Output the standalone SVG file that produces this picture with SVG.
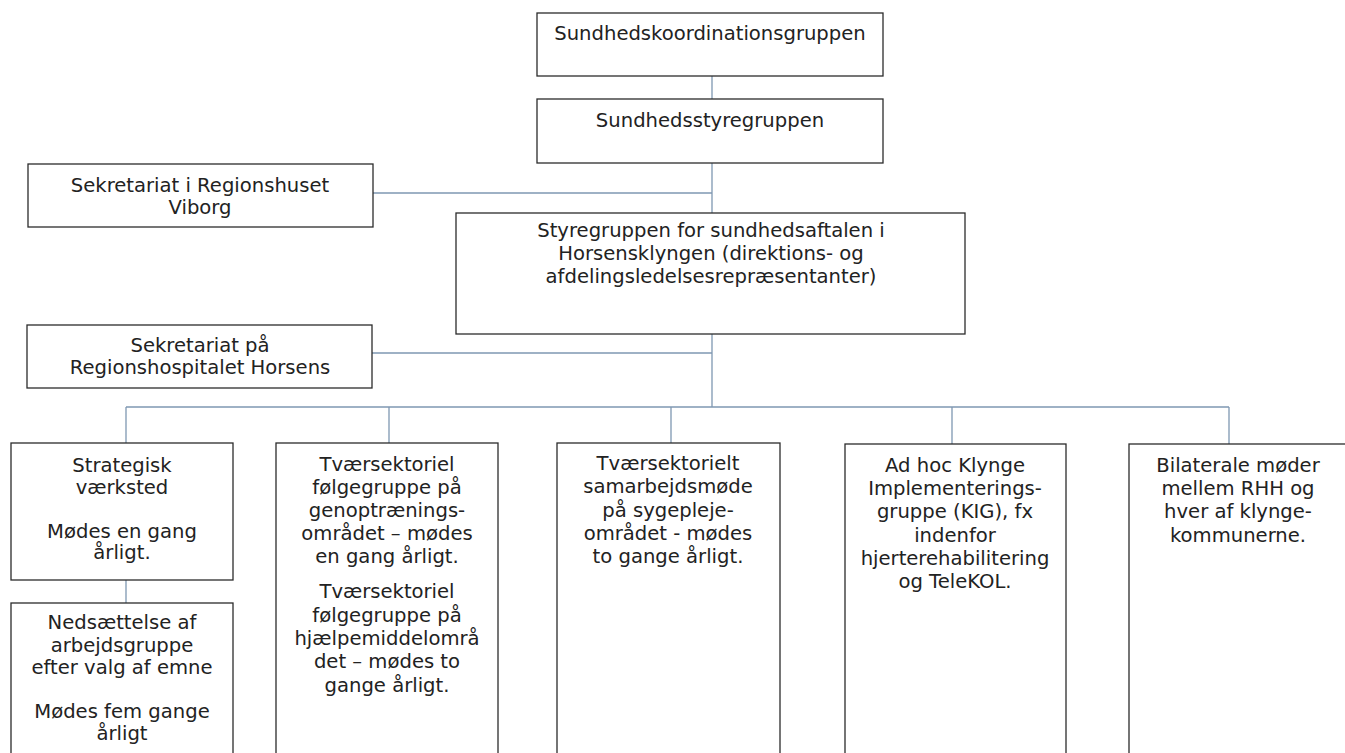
<svg xmlns="http://www.w3.org/2000/svg" width="1345" height="753" viewBox="0 0 1345 753">
<style>
.box{fill:#fff;stroke:#2b2b2b;stroke-width:1.3}
.t{font-family:"DejaVu Sans",Verdana,sans-serif;font-size:19.6px;fill:#222;text-anchor:middle}
.c{fill:none;stroke:#7f98b2;stroke-width:1.3}
</style>
<rect width="1345" height="753" fill="#fff"/>
<g id="connectors">
<path class="c" d="M712 76V99M712 163V213M373 193H712M712 334V407M372 353H712M126 407H1229M126 407V443M389 407V443M671 407V443M952 407V444M1229 407V444M126 580V603"/>
</g>
<g id="n1"><rect class="box" x="537" y="13" width="346" height="63"/>
<text class="t" x="710" y="40">Sundhedskoordinationsgruppen</text></g>
<g id="n2"><rect class="box" x="537" y="99" width="346" height="64"/>
<text class="t" x="710" y="127">Sundhedsstyregruppen</text></g>
<g id="n3"><rect class="box" x="28" y="164" width="345" height="63"/>
<text class="t" x="200" y="192">Sekretariat i Regionshuset</text>
<text class="t" x="200" y="214">Viborg</text></g>
<g id="n4"><rect class="box" x="456" y="213" width="509" height="121"/>
<text class="t" x="711" y="237">Styregruppen for sundhedsaftalen i</text>
<text class="t" x="711" y="260">Horsensklyngen (direktions- og</text>
<text class="t" x="711" y="283">afdelingsledelsesrepræsentanter)</text></g>
<g id="n5"><rect class="box" x="27" y="325" width="345" height="63"/>
<text class="t" x="200" y="352">Sekretariat på</text>
<text class="t" x="200" y="374">Regionshospitalet Horsens</text></g>
<g id="n6"><rect class="box" x="11" y="443" width="222" height="137"/>
<text class="t" x="122" y="472">Strategisk</text>
<text class="t" x="122" y="494">værksted</text>
<text class="t" x="122" y="538">Mødes en gang</text>
<text class="t" x="122" y="559">årligt.</text></g>
<g id="n7"><rect class="box" x="11" y="603" width="222" height="160"/>
<text class="t" x="122" y="629">Nedsættelse af</text>
<text class="t" x="122" y="652">arbejdsgruppe</text>
<text class="t" x="122" y="674">efter valg af emne</text>
<text class="t" x="122" y="718">Mødes fem gange</text>
<text class="t" x="122" y="740">årligt</text></g>
<g id="n8"><rect class="box" x="276" y="443" width="222" height="320"/>
<text class="t" x="387" y="471">Tværsektoriel</text>
<text class="t" x="387" y="494">følgegruppe på</text>
<text class="t" x="387" y="517">genoptrænings-</text>
<text class="t" x="387" y="540">området – mødes</text>
<text class="t" x="387" y="563">en gang årligt.</text>
<text class="t" x="387" y="598">Tværsektoriel</text>
<text class="t" x="387" y="622">følgegruppe på</text>
<text class="t" x="387" y="645">hjælpemiddelområ</text>
<text class="t" x="387" y="668">det – mødes to</text>
<text class="t" x="387" y="692">gange årligt.</text></g>
<g id="n9"><rect class="box" x="557" y="443" width="223" height="320"/>
<text class="t" x="668" y="470">Tværsektorielt</text>
<text class="t" x="668" y="493">samarbejdsmøde</text>
<text class="t" x="668" y="517">på sygepleje-</text>
<text class="t" x="668" y="540">området - mødes</text>
<text class="t" x="668" y="563">to gange årligt.</text></g>
<g id="n10"><rect class="box" x="845" y="444" width="221" height="320"/>
<text class="t" x="955" y="472">Ad hoc Klynge</text>
<text class="t" x="955" y="495">Implementerings-</text>
<text class="t" x="955" y="518">gruppe (KIG), fx</text>
<text class="t" x="955" y="542">indenfor</text>
<text class="t" x="955" y="565">hjerterehabilitering</text>
<text class="t" x="955" y="588">og TeleKOL.</text></g>
<g id="n11"><rect class="box" x="1129" y="444" width="220" height="320"/>
<text class="t" x="1238" y="472">Bilaterale møder</text>
<text class="t" x="1238" y="495">mellem RHH og</text>
<text class="t" x="1238" y="518">hver af klynge-</text>
<text class="t" x="1238" y="542">kommunerne.</text></g>
</svg>
